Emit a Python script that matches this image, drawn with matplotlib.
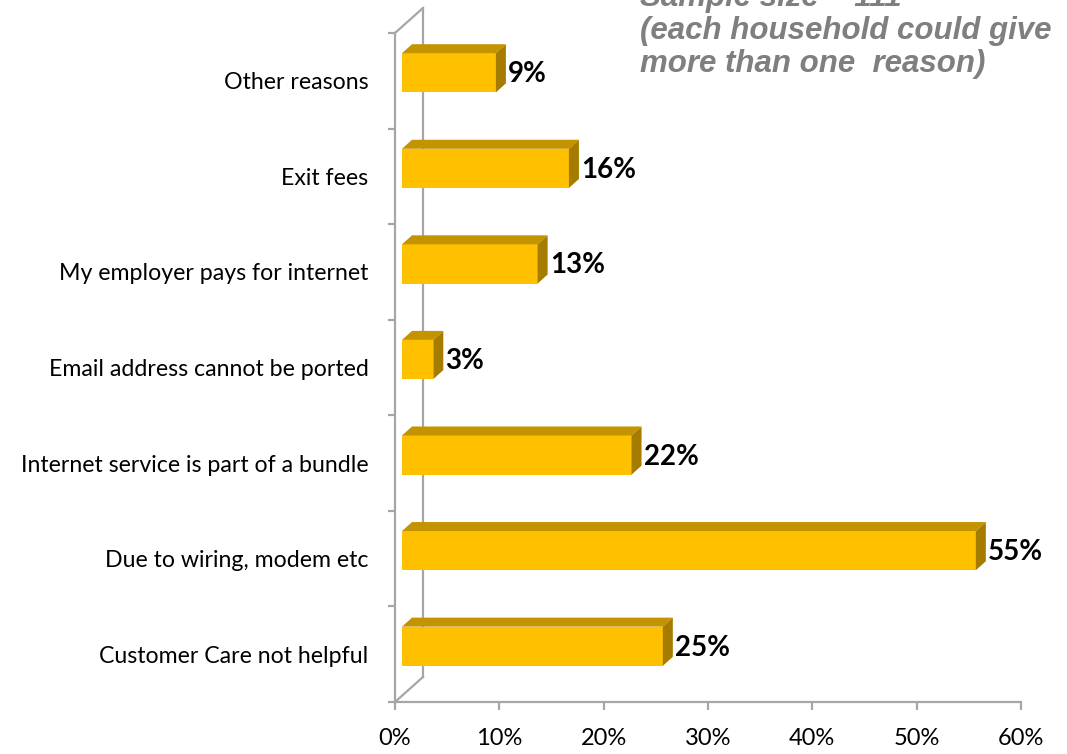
import matplotlib
matplotlib.use("Agg")
import matplotlib.pyplot as plt
import matplotlib.transforms as mtransforms
from matplotlib.patches import Polygon
import numpy as np

# Reasons for not switching provider (share of households, %)
reasons = ['Customer Care not helpful', 'Due to wiring, modem etc',
           'Internet service is part of a bundle', 'Email address cannot be ported',
           'My employer pays for internet', 'Exit fees', 'Other reasons']
shares = [25, 55, 22, 3, 13, 16, 9]
x_ticks = [0, 10, 20, 30, 40, 50, 60]
note_lines = ['Sample size = 111', '(each household could give', 'more than one  reason)']

W, H, DPI = 1067, 754, 100
plt.rcParams['font.family'] = ['Lato', 'DejaVu Sans']

fig = plt.figure(figsize=(W / DPI, H / DPI), dpi=DPI)
ax = fig.add_axes([395 / W, 52 / H, (1021 - 395) / W, (702 - 33) / H])
ax.set_xlim(0, 60)
ax.set_ylim(-0.5, len(reasons) - 0.5)

grey = '#a6a6a6'
for side in ['top', 'right']:
    ax.spines[side].set_visible(False)
for side in ['left', 'bottom']:
    ax.spines[side].set_color(grey)
    ax.spines[side].set_linewidth(1.6)

ax.set_xticks(x_ticks)
ax.set_xticklabels([f'{t}%' for t in x_ticks], fontsize=17)
ax.tick_params(axis='x', length=6, width=1.6, color=grey, pad=13)

ax.set_yticks(np.arange(-0.5, len(reasons), 1.0))
ax.set_yticklabels([])
ax.tick_params(axis='y', which='major', length=5, width=1.6, color=grey)
ax.set_yticks(np.arange(len(reasons)), minor=True)
ax.set_yticklabels(reasons, minor=True, fontsize=16.7)
ax.tick_params(axis='y', which='minor', length=0, pad=19)

# pixel offsets for the fake 3D look
def shift(px, py):
    return ax.transData + mtransforms.ScaledTranslation(px / DPI, py / DPI, fig.dpi_scale_trans)

# back wall of the 3D frame
wall = shift(28, 25)
top_y = len(reasons) - 0.5
ax.plot([0, 0], [-0.5, top_y], color=grey, lw=1.6, transform=wall, clip_on=False)
for yy in [-0.5, top_y]:
    p0 = ax.transData.transform((0, yy))
    ax.add_line(plt.Line2D([p0[0], p0[0] + 28], [p0[1], p0[1] + 25], color=grey, lw=1.6,
                           transform=None, clip_on=False))

# bars: front face plus top and side faces
front = shift(7, 8)
bh = 0.41
px_x = (1021 - 395) / 60.0
px_y = (702 - 33) / len(reasons)
dx, dy = 10 / px_x, 9 / px_y
ypos = np.arange(len(reasons))
ax.barh(ypos, shares, height=bh, color='#FFC000', transform=front, zorder=3)
for y, v in zip(ypos, shares):
    t, b = y + bh / 2, y - bh / 2
    ax.add_patch(Polygon([(0, t), (v, t), (v + dx, t + dy), (dx, t + dy)],
                         closed=True, facecolor='#C49400', edgecolor='none',
                         transform=front, zorder=3))
    ax.add_patch(Polygon([(v, b), (v, t), (v + dx, t + dy), (v + dx, b + dy)],
                         closed=True, facecolor='#A67C00', edgecolor='none',
                         transform=front, zorder=3))
    ax.text(v + dx + 0.2, y - 0.015, f'{v}%', fontsize=20, fontweight='bold',
            ha='left', va='center', transform=front, zorder=4)

# sample note in the top right corner
for i, line in enumerate(note_lines):
    fig.text(640 / W, 1 - (6 + 33 * i) / H, line, fontsize=22.5, fontweight='bold',
             fontstyle='italic', color='#7f7f7f', family=['Liberation Sans', 'DejaVu Sans'],
             ha='left', va='baseline')

fig.savefig('out.png', dpi=DPI)
